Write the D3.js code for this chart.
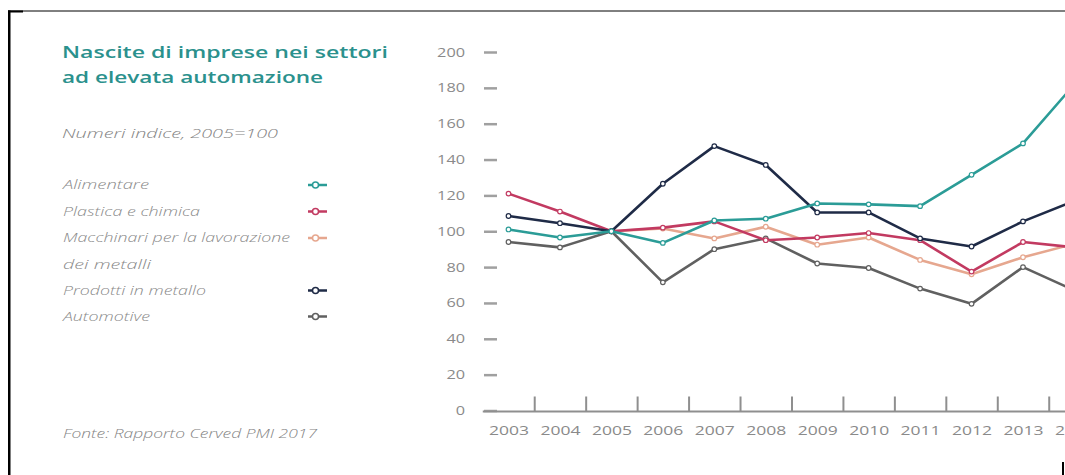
<!DOCTYPE html>
<html>
<head>
<meta charset="utf-8">
<script src="https://cdn.jsdelivr.net/npm/d3@7"></script>
<style>
  html, body { margin: 0; padding: 0; background: #fff; overflow: hidden; }
  svg { display: block; font-family: "Open Sans", "Noto Sans", sans-serif; }
</style>
</head>
<body>
<svg id="chart" width="1065" height="475"></svg>
<script>
// Index numbers, 2005 = 100
const years = [2003, 2004, 2005, 2006, 2007, 2008, 2009, 2010, 2011, 2012, 2013, 2014];
const alimentare = [101, 96.5, 100, 93.5, 106, 107, 115.5, 115, 114, 131.5, 149, 182];
const plastica   = [121, 111, 100, 102, 105.5, 95, 96.5, 99, 95, 77.5, 94, 91];
const macchinari = [null, null, 100, 101.5, 96, 102.5, 92.5, 96.5, 84, 76, 85.5, 93];
const prodotti   = [108.5, 104.5, 100, 126.5, 147.5, 137, 110.5, 110.5, 96, 91.5, 105.5, 117];
const automotive = [94, 91, 100, 71.5, 90, 96, 82, 79.5, 68, 59.5, 80, 67];
const yTicks = [0, 20, 40, 60, 80, 100, 120, 140, 160, 180, 200];

const legendNames = [
  ["Alimentare"],
  ["Plastica e chimica"],
  ["Macchinari per la lavorazione", "dei metalli"],
  ["Prodotti in metallo"],
  ["Automotive"]
];
const colors = ["#2b9c97", "#c23a61", "#e6a78f", "#1f2b47", "#606060"];
const seriesValues = [alimentare, plastica, macchinari, prodotti, automotive];
// drawing order (back to front)
const drawOrder = [4, 2, 1, 3, 0];

const svg = d3.select("#chart");

// the typeface is set wide: each text is given its measured run length
function stretched(sel, width) {
  sel.attr("textLength", width).attr("lengthAdjust", "spacingAndGlyphs");
  return sel;
}

// frame
svg.append("rect").attr("x", 8).attr("y", 10.5).attr("width", 2.5).attr("height", 470).attr("fill", "#000");
svg.append("rect").attr("x", 8).attr("y", 10.5).attr("width", 15).attr("height", 2).attr("fill", "#000");
svg.append("line").attr("x1", 8).attr("x2", 1065).attr("y1", 11).attr("y2", 11)
  .attr("stroke", "#000").attr("stroke-width", 1);
svg.append("rect").attr("x", 1062).attr("y", 462).attr("width", 2).attr("height", 13).attr("fill", "#000");

// title block
const titleLines = [["Nascite di imprese nei settori", 326], ["ad elevata automazione", 261]];
titleLines.forEach(([s, w], i) => {
  stretched(svg.append("text").attr("x", 62).attr("y", 57.5 + i * 25.5)
    .attr("fill", "#2b918d").attr("font-size", 16).attr("font-weight", 600)
    .text(s), w);
});

stretched(svg.append("text").attr("x", 62).attr("y", 137.5)
  .attr("fill", "#848484").attr("font-size", 13).attr("font-style", "italic").attr("font-weight", 300)
  .text("Numeri indice, 2005=100"), 216);

// legend
const legendRows = [185, 211.5, 238, 290.5, 316.5];
const legendWidths = [[86], [137], [227, 88], [143], [87]];
legendNames.forEach((lines, i) => {
  const g = svg.append("g");
  lines.forEach((s, j) => {
    stretched(g.append("text").attr("x", 63).attr("y", legendRows[i] + 4 + j * 26.5)
      .attr("fill", "#8a8a8a").attr("font-size", 12).attr("font-style", "italic").attr("font-weight", 300)
      .text(s), legendWidths[i][j]);
  });
  g.append("line").attr("x1", 308).attr("x2", 327).attr("y1", legendRows[i]).attr("y2", legendRows[i])
    .attr("stroke", colors[i]).attr("stroke-width", 2.5);
  g.append("circle").attr("cx", 315.5).attr("cy", legendRows[i]).attr("r", 3)
    .attr("fill", "#fff").attr("stroke", colors[i]).attr("stroke-width", 1.5);
});

stretched(svg.append("text").attr("x", 63).attr("y", 437.5)
  .attr("fill", "#848484").attr("font-size", 12.5).attr("font-style", "italic").attr("font-weight", 300)
  .text("Fonte: Rapporto Cerved PMI 2017"), 254);

// scales
const x = d3.scaleLinear().domain([2003, 2013]).range([508.5, 1023]);
const y = d3.scaleLinear().domain([0, 200]).range([410.5, 52]);

// y axis: short dashes with labels set apart
const yAxis = svg.append("g").attr("transform", "translate(497,0)")
  .call(d3.axisLeft(y).tickValues(yTicks).tickSize(13).tickPadding(19));
yAxis.select(".domain").remove();
yAxis.selectAll(".tick line").attr("stroke", "#a0a0a0").attr("stroke-width", 2.5);
yAxis.selectAll(".tick text").attr("fill", "#8a8a8a").attr("font-size", 12.5)
  .attr("font-family", "Open Sans, sans-serif")
  .each(function (d) { stretched(d3.select(this), String(d).length * 9.3); });

// x axis baseline and year labels
const axisY = 411.5;
svg.append("line").attr("x1", x(2002.5)).attr("x2", 1065).attr("y1", axisY).attr("y2", axisY)
  .attr("stroke", "#8f8f8f").attr("stroke-width", 2);

const xLabels = svg.append("g").attr("transform", `translate(0,${axisY})`)
  .call(d3.axisBottom(x).tickValues(years).tickFormat(d3.format("d")).tickSize(0).tickPadding(14));
xLabels.select(".domain").remove();
xLabels.selectAll(".tick text").attr("fill", "#8a8a8a").attr("font-size", 13)
  .attr("font-family", "Open Sans, sans-serif")
  .each(function () { stretched(d3.select(this), 40); });

// boundary ticks between years
const bounds = years.map(d => d + 0.5);
const xTicks = svg.append("g").attr("transform", `translate(0,${axisY})`)
  .call(d3.axisBottom(x).tickValues(bounds).tickSize(-15).tickFormat(""));
xTicks.select(".domain").remove();
xTicks.selectAll(".tick line").attr("stroke", "#8f8f8f").attr("stroke-width", 2);

// series
const line = d3.line()
  .defined(d => d.v != null)
  .x(d => x(d.year))
  .y(d => y(d.v));

drawOrder.forEach(i => {
  const pts = years.map((yr, k) => ({ year: yr, v: seriesValues[i][k] }));
  const g = svg.append("g");
  g.append("path").datum(pts).attr("d", line)
    .attr("fill", "none").attr("stroke", colors[i]).attr("stroke-width", 2.6)
    .attr("stroke-linejoin", "round");
  g.selectAll("circle").data(pts.filter(d => d.v != null)).join("circle")
    .attr("cx", d => x(d.year)).attr("cy", d => y(d.v)).attr("r", 2.3)
    .attr("fill", "#fff").attr("stroke", colors[i]).attr("stroke-width", 1.2);
});
</script>
</body>
</html>
